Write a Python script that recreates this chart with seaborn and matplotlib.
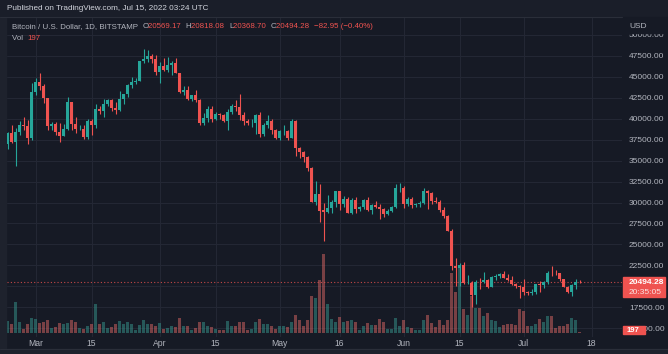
import numpy as np
import pandas as pd
import seaborn as sns
import matplotlib.pyplot as plt
from matplotlib.patches import Rectangle

# BTC/USD daily candles, Bitstamp, 22 Feb 2022 .. 15 Jul 2022
opens = [37000, 38250, 37250, 38350, 39200, 39100, 37700, 43180, 44420, 43900,
         42450, 39150, 39400, 38400, 37990, 38730, 41950, 39420, 38730, 38810,
         37800, 39670, 39280, 41140, 40950, 41800, 42200, 41260, 41000, 42370,
         42890, 43960, 44330, 44520, 46830, 47130, 47460, 47060, 45530, 46300,
         45820, 46420, 46620, 45500, 43180, 43450, 42290, 42770, 42170, 39530,
         40080, 41150, 39950, 40550, 40390, 39680, 40800, 41500, 41350, 40480,
         39700, 39460, 39500, 40450, 38120, 39240, 39740, 38600, 37650, 38470,
         38520, 37720, 39690, 36550, 36010, 35470, 34060, 30080, 31010, 29050,
         28900, 29300, 30080, 31330, 29860, 30430, 28700, 30300, 29180, 29430,
         30270, 29100, 29650, 29520, 29200, 28600, 29040, 29450, 31730, 31790,
         29800, 30450, 29700, 29870, 29900, 31370, 31130, 30200, 30100, 29090,
         28420, 26570, 22470, 22140, 22580, 20380, 20460, 19000, 20570, 20480,
         20720, 19970, 21100, 21230, 21480, 21020, 20730, 20280, 20100, 19950,
         19280, 19250, 19300, 20230, 20180, 20560, 21640, 21610, 21590, 20850,
         19980, 19320, 20200, 20569]
highs = [38400, 39200, 38900, 39700, 40200, 39800, 44200, 44900, 45400, 44100,
         42500, 39600, 39650, 39500, 39400, 42600, 42000, 40200, 39300, 39300,
         39900, 39900, 41700, 41450, 42300, 42400, 42300, 42000, 43300, 42900,
         44100, 45000, 44800, 46900, 48250, 48200, 47700, 47600, 46700, 47200,
         47400, 46900, 47200, 45500, 43900, 43950, 42800, 43400, 42400, 40700,
         41550, 41500, 40850, 40700, 40600, 41100, 41700, 42200, 42900, 40800,
         39950, 39900, 40600, 40750, 39450, 40400, 39900, 38800, 38700, 39200,
         38650, 40000, 39850, 36650, 36150, 35500, 34250, 32600, 32200, 30000,
         30950, 30250, 31400, 31330, 30750, 30650, 30500, 30700, 29600, 30450,
         30650, 29800, 30200, 29850, 29350, 29200, 29550, 32250, 32350, 31950,
         30650, 30650, 29950, 30150, 31750, 31550, 31300, 30650, 30350, 29450,
         28550, 26880, 23350, 22800, 22950, 21300, 20700, 20750, 21050, 21700,
         20880, 21200, 21500, 21550, 21850, 21500, 21200, 20400, 20150, 20900,
         19420, 19650, 20300, 20700, 20650, 21850, 22450, 21950, 21600, 20850,
         20050, 20250, 20880, 20818]
lows = [36350, 37050, 34300, 38000, 38600, 37000, 37500, 42800, 43400, 41900,
        38600, 38600, 38100, 37200, 37900, 38700, 38600, 38300, 38700, 37600,
        37600, 38100, 38900, 40500, 40150, 41500, 40900, 40500, 40900, 41800,
        42600, 43600, 44100, 44450, 46650, 46800, 46600, 45200, 44250, 45700,
        45600, 45150, 45400, 43100, 42800, 42200, 42150, 42000, 39250, 39300,
        39600, 39600, 39800, 40000, 39550, 38600, 40600, 40900, 39800, 39200,
        39300, 39000, 38200, 37800, 37900, 38900, 38200, 37600, 37400, 38050,
        37500, 37700, 35600, 35300, 34800, 33700, 30050, 29750, 27700, 25400,
        28800, 28700, 29500, 29100, 29500, 28700, 28650, 28750, 28950, 29250,
        29000, 28650, 29350, 28000, 28250, 28500, 28850, 29300, 31200, 29350,
        29600, 29300, 29450, 29500, 29870, 29250, 29850, 29950, 28900, 28150,
        26600, 21900, 20100, 20100, 20250, 20250, 17600, 17950, 19650, 20350,
        19800, 19900, 20800, 20950, 21000, 20600, 20200, 19850, 18650, 19000,
        19000, 18950, 19050, 19300, 19800, 20250, 21200, 21300, 20700, 19900,
        19250, 18900, 19650, 20368]
closes = [38250, 37250, 38350, 39200, 39100, 37700, 43180, 44420, 43900, 42450,
          39150, 39400, 38400, 37990, 38730, 41950, 39420, 38730, 38810, 37800,
          39670, 39280, 41140, 40950, 41800, 42200, 41260, 41000, 42370, 42890,
          43960, 44330, 44520, 46830, 47130, 47460, 47060, 45530, 46300, 45820,
          46420, 46620, 45500, 43180, 43450, 42290, 42770, 42170, 39530, 40080,
          41150, 39950, 40550, 40390, 39680, 40800, 41500, 41350, 40480, 39700,
          39460, 39500, 40450, 38120, 39240, 39740, 38600, 37650, 38470, 38520,
          37720, 39690, 36550, 36010, 35470, 34060, 30080, 31010, 28940, 28900,
          29300, 30080, 31330, 29860, 30430, 28700, 30300, 29180, 29430, 30270,
          29100, 29650, 29520, 29200, 28600, 29040, 29450, 31730, 31790, 29800,
          30450, 29700, 29870, 29900, 31370, 31130, 30200, 30100, 29090, 28420,
          26570, 22470, 22140, 22580, 20380, 20460, 19000, 20570, 20480, 20720,
          19970, 21100, 21230, 21480, 21020, 20730, 20280, 20100, 19950, 19280,
          19250, 19300, 20230, 20180, 20560, 21640, 21610, 21590, 20850, 19980,
          19320, 20200, 20569, 20494.28]
volumes = [2400, 1800, 6200, 2200, 800, 1800, 3000, 2800, 2000, 2200,
           2600, 1000, 1200, 2000, 1800, 2000, 2600, 2200, 1000, 800,
           1400, 1800, 5800, 1800, 2200, 1000, 1200, 1800, 2400, 1800,
           2200, 1800, 600, 1600, 2600, 1800, 1800, 1400, 2000, 800,
           1000, 1400, 1200, 3000, 1400, 1400, 600, 1000, 2200, 2200,
           1400, 1200, 800, 600, 600, 2400, 1400, 1400, 2200, 2200,
           600, 800, 2200, 2800, 1800, 1800, 1400, 800, 1400, 1400,
           1200, 2200, 3600, 2600, 1400, 2600, 7400, 7000, 10600, 15800,
           5800, 2800, 2200, 3200, 2200, 2400, 2600, 2200, 600, 1400,
           2000, 1600, 1600, 2800, 2200, 800, 800, 3000, 1400, 2600,
           1200, 1000, 600, 600, 2540, 3540, 1860, 1060, 2540, 1540,
           2540, 12000, 8200, 13540, 4740, 3540, 7400, 4860, 4860, 3400,
           4000, 2600, 2400, 1200, 1600, 1800, 1800, 1600, 4800, 4400,
           1400, 1400, 1800, 2800, 2200, 3400, 3400, 1000, 1400, 1400,
           1800, 3000, 2600, 197]

tick_days = ["2022-03-01", "2022-03-15", "2022-04-01", "2022-04-15", "2022-05-01",
             "2022-05-16", "2022-06-01", "2022-06-15", "2022-07-01", "2022-07-18"]
tick_labels = ["Mar", "15", "Apr", "15", "May", "16", "Jun", "15", "Jul", "18"]
price_ticks = list(range(15000, 50001, 2500))
last_price = 20494.28

BG = "#161a25"
FRAME = "#1e222d"
GRID = "#232734"
UP = "#26a69a"
DOWN = "#ef5350"
TXT = "#b2b5be"
FONT = ["Liberation Sans", "DejaVu Sans"]

dates = pd.date_range("2022-02-22", periods=len(opens), freq="D")
df = pd.DataFrame({"date": dates, "open": opens, "high": highs, "low": lows,
                   "close": closes, "volume": volumes})
df["day"] = (df["date"] - dates[0]).dt.days
df["dir"] = np.where(df["close"] >= df["open"], "up", "down")
tick_pos = [(pd.Timestamp(d) - dates[0]).days for d in tick_days]

sns.set_style("dark", {"axes.facecolor": BG, "figure.facecolor": BG})
plt.rcParams["font.family"] = FONT

W, H = 668, 354
fig = plt.figure(figsize=(W / 100, H / 100), dpi=100)
fig.patch.set_facecolor(BG)

# outer frame bits
fig.patches.append(Rectangle((0, 0), 6 / W, 1, transform=fig.transFigure, color=FRAME, zorder=0))
fig.patches.append(Rectangle((0, 0), 1, 5 / H, transform=fig.transFigure, color=FRAME, zorder=0))
fig.patches.append(Rectangle((0, 1 - 16 / H), 1, 16 / H, transform=fig.transFigure,
                             color="#1a1e29", zorder=0))

x0, x1, ytop, ybot = 6.5, 622, 17, 337
ax = fig.add_axes([x0 / W, (H - ybot) / H, (x1 - x0) / W, (ybot - ytop) / H])
ax.set_xlim(-0.25, (x1 - 7.5) / 4)
ax.set_ylim(13967, 52121)

# volume on a twin axis in the lower part
axv = ax.twinx()
sns.barplot(data=df, x="day", y="volume", hue="dir", palette={"up": UP, "down": DOWN},
            native_scale=True, dodge=False, width=0.75, alpha=0.5, legend=False,
            linewidth=0, ax=axv)
axv.set_ylim(-860, 63140)
axv.set_xlim(ax.get_xlim())
axv.set_yticks([])
axv.set_ylabel("")
axv.set_xlabel("")
axv.set_zorder(0)
ax.set_zorder(1)
ax.patch.set_visible(False)
axv.patch.set_facecolor(BG)
axv.patch.set_visible(True)
axv.grid(False)
axv.tick_params(axis="x", length=0, labelbottom=False)

# grid drawn on the volume axis so it sits behind the bars
for t in tick_pos:
    axv.axvline(t, color=GRID, linewidth=0.8, zorder=0)
for p in price_ticks:
    yv = axv.transData.inverted().transform(ax.transData.transform((0, p)))[1]
    axv.axhline(yv, color=GRID, linewidth=0.8, zorder=0)

# candles
colors = np.where(df["dir"] == "up", UP, DOWN)
ax.vlines(df["day"], df["low"], df["high"], colors=colors, linewidth=0.8, zorder=3)
body_lo = np.minimum(df["open"], df["close"])
body_h = np.maximum(np.abs(df["close"] - df["open"]), 40)
ax.bar(df["day"], body_h, bottom=body_lo, width=0.72, color=colors, linewidth=0, zorder=4)

ax.axhline(last_price, color=DOWN, linestyle=(0, (1, 2)), linewidth=0.8, alpha=0.8, zorder=2)

ax.set_yticks(price_ticks)
ax.set_yticklabels(["" if p == 20000 else f"{p:.2f}" for p in price_ticks])
ax.yaxis.tick_right()
ax.tick_params(axis="y", length=0, pad=5, labelsize=6, labelcolor=TXT)
ax.set_xticks(tick_pos)
ax.set_xticklabels(tick_labels)
ax.tick_params(axis="x", length=0, pad=1.5, labelsize=6.2, labelcolor=TXT)
ax.grid(False)
for a in (ax, axv):
    for s in a.spines.values():
        s.set_visible(False)

# separator lines of the panes
fig.add_artist(plt.Line2D([0, 1], [1 - 16.5 / H] * 2, color="#2a2e39", linewidth=0.8))
fig.add_artist(plt.Line2D([0, 1], [(H - 349) / H] * 2, color="#2a2e39", linewidth=0.8))

# header texts
fig.text(7 / W, 1 - 8 / H, "Published on TradingView.com, Jul 15, 2022 03:24 UTC",
         color="#d1d4dc", fontsize=5.9, va="center", ha="left")
parts = [("Bitcoin / U.S. Dollar, 1D, BITSTAMP  ", TXT), ("O", TXT), ("20569.17  ", DOWN),
         ("H", TXT), ("20818.08  ", DOWN), ("L", TXT), ("20368.70  ", DOWN),
         ("C", TXT), ("20494.28  ", DOWN), ("−82.95 (−0.40%)", DOWN)]
fig.canvas.draw()
rend = fig.canvas.get_renderer()
xpos = 12
for s, c in parts:
    t = fig.text(xpos / W, 1 - 27 / H, s, color=c, fontsize=5.7, va="center", ha="left")
    xpos += t.get_window_extent(rend).width
t = fig.text(12 / W, 1 - 38 / H, "Vol  ", color=TXT, fontsize=5.7, va="center", ha="left")
fig.text((12 + t.get_window_extent(rend).width) / W, 1 - 38 / H, "197", color=DOWN,
         fontsize=5.7, va="center", ha="left")

# price scale overlays
fig.patches.append(Rectangle((623 / W, 1 - 33 / H), 45 / W, 16 / H, transform=fig.transFigure,
                             color=BG, zorder=5))
fig.text(629 / W, 1 - 26 / H, "USD", color=TXT, fontsize=6, va="center", ha="left", zorder=6)
fig.patches.append(Rectangle((623 / W, 1 - 297 / H), 42 / W, 20 / H, transform=fig.transFigure,
                             color=DOWN, zorder=5))
fig.text(629 / W, 1 - 282.5 / H, "20494.28", color="white", fontsize=6, va="center",
         ha="left", zorder=6, fontweight="bold")
fig.text(629 / W, 1 - 292 / H, "20:35:05", color="#fde0e0", fontsize=6, va="center",
         ha="left", zorder=6)
fig.patches.append(Rectangle((623 / W, 1 - 334 / H), 22 / W, 8 / H, transform=fig.transFigure,
                             color=DOWN, zorder=5))
fig.text(627 / W, 1 - 330.5 / H, "197", color="white", fontsize=5.5, va="center",
         ha="left", zorder=6, fontweight="bold")

fig.savefig("out.png", dpi=100, facecolor=BG)
